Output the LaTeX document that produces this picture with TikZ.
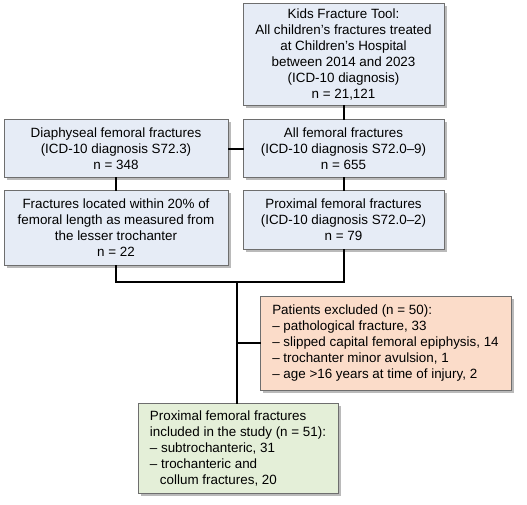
\documentclass[tikz,border=0pt]{standalone}
\usepackage{fontspec}
\setmainfont{Liberation Sans}
\usetikzlibrary{shadows}
\definecolor{boxblue}{HTML}{E6ECF6}
\definecolor{boxorange}{HTML}{FBDCC9}
\definecolor{boxgreen}{HTML}{E4EFD8}
\definecolor{boxline}{HTML}{6E6E6E}
\begin{document}
\begin{tikzpicture}[x=1pt, y=-1pt,
    box/.style={draw=boxline, line width=1pt, fill=boxblue, align=center,
        font=\fontsize{13.4}{16}\selectfont, inner sep=0pt,
        drop shadow={shadow xshift=2.5pt, shadow yshift=-2.5pt, opacity=0.45, fill=black!60}},
    link/.style={line width=2pt, line cap=rect}]
    \useasboundingbox (0,0) rectangle (527,505);
    % Upper blue boxes
    \node[box, minimum width=201pt, minimum height=102pt] (kft) at (343.5,55) {Kids Fracture Tool:\\All children’s fractures treated\\at Children’s Hospital\\between 2014 and 2023\\(ICD-10 diagnosis)\\n = 21,121};
    \node[box, minimum width=201pt, minimum height=58pt] (allfem) at (343.5,149) {All femoral fractures\\(ICD-10 diagnosis S72.0–9)\\n = 655};
    \node[box, minimum width=224pt, minimum height=58pt] (diaph) at (116,149) {Diaphyseal femoral fractures\\(ICD-10 diagnosis S72.3)\\n = 348};
    \node[box, minimum width=201pt, minimum height=58pt] (prox) at (343.5,220) {Proximal femoral fractures\\(ICD-10 diagnosis S72.0–2)\\n = 79};
    \node[box, minimum width=224pt, minimum height=74pt] (within) at (116,228) {Fractures located within 20\% of\\femoral length as measured from\\the lesser trochanter\\n = 22};
    % Excluded and included
    \node[box, fill=boxorange, align=left, minimum width=251pt, minimum height=94pt] (excl) at (385.5,343) {Patients excluded (n = 50):\\– pathological fracture, 33\\– slipped capital femoral epiphysis, 14\\– trochanter minor avulsion, 1\\– age >16 years at time of injury, 2};
    \node[box, fill=boxgreen, align=left, minimum width=200pt, minimum height=90pt] (incl) at (238,448) {Proximal femoral fractures\\included in the study (n = 51):\\– subtrochanteric, 31\\– trochanteric and\\\hspace*{0.75em}collum fractures, 20};
    % Connectors
    \coordinate (join) at (237,282);
    \draw[link] (kft) -- (allfem);
    \draw[link] (allfem) -- (diaph);
    \draw[link] (allfem) -- (prox);
    \draw[link] (diaph) -- (within);
    \draw[link] (within.south) -- (within.south |- join) -- (prox.south |- join) -- (prox.south);
    \draw[link] (join) -- (join |- incl.north);
    \draw[link] (join |- excl.west) -- (excl.west);
\end{tikzpicture}
\end{document}
